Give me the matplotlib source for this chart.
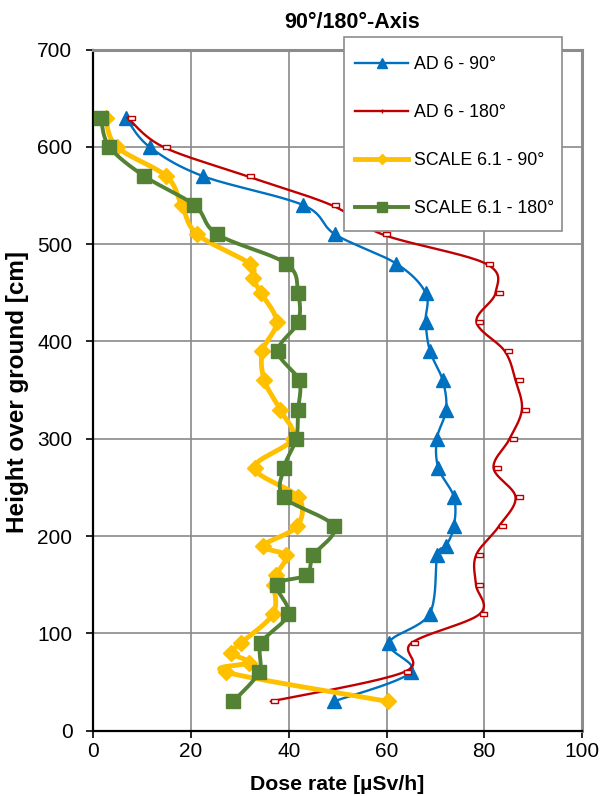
import numpy as np
import matplotlib
matplotlib.use("Agg")
import matplotlib.pyplot as plt
from matplotlib.lines import Line2D
from matplotlib.patches import Rectangle
from matplotlib.path import Path

plt.rcParams['font.family'] = ['Liberation Sans', 'DejaVu Sans']

# AD 6 - 90 deg
h_ad90 = [630, 600, 570, 540, 510, 480, 450, 420, 390, 360, 330, 300, 270, 240,
          210, 190, 180, 120, 90, 60, 30]
x_ad90 = [6.6, 11.5, 22.4, 43.0, 49.5, 62.0, 68.0, 68.0, 68.9, 71.5, 72.2, 70.3,
          70.6, 73.8, 73.8, 72.2, 70.4, 68.8, 60.5, 65.0, 49.2]

# AD 6 - 180 deg
h_ad180 = [630, 600, 570, 540, 510, 480, 450, 420, 390, 360, 330, 300, 270, 240,
           210, 180, 150, 120, 90, 60, 30]
x_ad180 = [7.0, 14.3, 31.4, 48.8, 59.2, 80.3, 82.3, 78.4, 84.2, 86.4, 87.7, 85.2,
           81.9, 86.4, 83.0, 78.3, 78.3, 79.1, 65.1, 63.5, 36.3]

# SCALE 6.1 - 90 deg
h_sc90 = [630, 600, 570, 540, 510, 480, 465, 450, 420, 390, 360, 330, 300, 270,
          240, 210, 190, 180, 160, 150, 120, 90, 80, 70, 60, 30]
x_sc90 = [2.5, 4.8, 14.9, 18.1, 21.3, 32.0, 32.6, 34.3, 37.5, 34.6, 35.0, 38.2,
          40.8, 33.0, 41.9, 41.7, 34.8, 39.4, 37.4, 37.0, 36.8, 30.2, 28.2, 31.8,
          27.2, 60.3]

# SCALE 6.1 - 180 deg
h_sc180 = [630, 600, 570, 540, 510, 480, 450, 420, 390, 360, 330, 300, 270, 240,
           210, 180, 160, 150, 120, 90, 60, 30]
x_sc180 = [1.5, 3.3, 10.4, 20.7, 25.4, 39.5, 41.9, 41.9, 37.8, 42.1, 41.9, 41.5,
           39.0, 39.0, 49.2, 45.0, 43.6, 37.6, 39.9, 34.4, 33.9, 28.6]

labels = ["AD 6 - 90°", "AD 6 - 180°", "SCALE 6.1 - 90°", "SCALE 6.1 - 180°"]


def smooth(x, y, n=24):
    """Excel-like smoothed line (Catmull-Rom as cubic Bezier segments)"""
    pts = np.column_stack([x, y]).astype(float)
    p = np.vstack([pts[0], pts, pts[-1]])
    t = np.linspace(0, 1, n)[:, None]
    out = []
    for i in range(1, len(p) - 2):
        p0, p1, p2, p3 = p[i - 1], p[i], p[i + 1], p[i + 2]
        c1 = p1 + (p2 - p0) / 6
        c2 = p2 - (p3 - p1) / 6
        out.append((1 - t) ** 3 * p1 + 3 * (1 - t) ** 2 * t * c1
                   + 3 * (1 - t) * t ** 2 * c2 + t ** 3 * p2)
    seg = np.vstack(out)
    return seg[:, 0], seg[:, 1]


# small open dash marker sitting right of the point
dash = Path([(0, -0.22), (1, -0.22), (1, 0.22), (0, 0.22), (0, -0.22)],
            [Path.MOVETO, Path.LINETO, Path.LINETO, Path.LINETO, Path.CLOSEPOLY])

series = [
    (x_ad90, h_ad90, "#0070C0", 1.7, "^", 10, "#0070C0"),
    (x_ad180, h_ad180, "#C00000", 1.7, dash, 10, "white"),
    (x_sc90, h_sc90, "#FFC000", 3.5, "D", 8.5, "#FFC000"),
    (x_sc180, h_sc180, "#548235", 2.8, "s", 10, "#548235"),
]

W, H = 603, 796
fig = plt.figure(figsize=(W / 100, H / 100), dpi=100)
ax = fig.add_axes([93.3 / W, 1 - 730.6 / H, 488.7 / W, 681 / H])

for i, (xs, hs, col, lw, mk, ms, fc) in enumerate(series):
    sx, sy = smooth(xs, hs)
    ax.plot(sx, sy, color=col, lw=lw, zorder=3 + i, solid_capstyle='round')
    ax.plot(xs, hs, ls='none', marker=mk, markersize=ms, color=col,
            markerfacecolor=fc, markeredgecolor=col,
            markeredgewidth=1.0, zorder=3 + i)

ax.set_xlim(0, 100)
ax.set_ylim(0, 700)
ax.set_xticks(range(0, 101, 20))
ax.set_yticks(range(0, 701, 100))
ax.grid(True, color="#8a8a8a", lw=1.2)
ax.set_axisbelow(True)
ax.tick_params(axis='both', labelsize=15, length=5, width=1.2, color='black')
ax.tick_params(axis='y', pad=10)
ax.tick_params(axis='x', pad=3)
for s in ["left", "bottom"]:
    ax.spines[s].set_color("black")
    ax.spines[s].set_linewidth(1.6)
for s in ["top", "right"]:
    ax.spines[s].set_color("#8c8c8c")
    ax.spines[s].set_linewidth(2.2)

fig.text(352 / W, 1 - 22 / H, "90°/180°-Axis", ha='center', va='center',
         fontsize=15.5, fontweight='bold')
fig.text(337 / W, 1 - 785 / H, "Dose rate [µSv/h]", ha='center',
         va='center', fontsize=15.3, fontweight='bold')
fig.text(18 / W, 1 - 392 / H, "Height over ground [cm]", ha='center',
         va='center', rotation=90, fontsize=17.5, fontweight='bold')

# legend frame drawn separately, above the plot area
frame = Rectangle((344 / W, 1 - 231 / H), 218 / W, 194.3 / H,
                  transform=fig.transFigure, facecolor='white',
                  edgecolor="#8c8c8c", lw=1.2, zorder=2)
fig.patches.append(frame)

handles = [
    Line2D([], [], color="#0070C0", lw=1.7, marker="^", markersize=7),
    Line2D([], [], color="#C00000", lw=1.7, marker="|", markersize=3),
    Line2D([], [], color="#FFC000", lw=3.5, marker="D", markersize=5),
    Line2D([], [], color="#548235", lw=2.8, marker="s", markersize=7),
]
leg = fig.legend(handles, labels, loc='upper left', frameon=False,
                 bbox_to_anchor=(355 / W, 1 - 56 / H), fontsize=12.8,
                 handlelength=3.0, handletextpad=0.3, labelspacing=1.74,
                 borderpad=0, borderaxespad=0)
leg.set_zorder(5)

fig.savefig("out.png", dpi=100)
